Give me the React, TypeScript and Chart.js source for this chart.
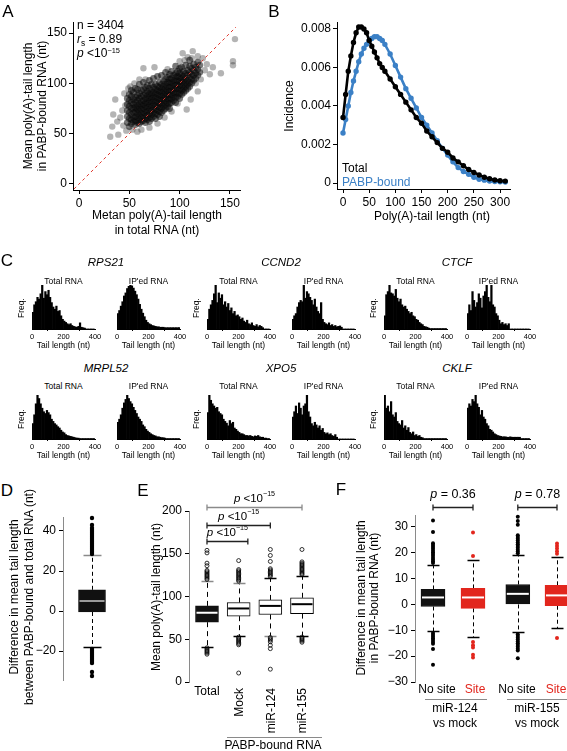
import React, { useEffect, useRef } from 'react';
import { Chart, registerables } from 'chart.js';

Chart.register(...registerables);

const FONT = '"Liberation Sans", Arial, Helvetica, sans-serif';
Chart.defaults.font.family = FONT;
Chart.defaults.font.size = 12;
Chart.defaults.color = '#000';

const BLUE = '#3b80c6';
const RED = '#e2261d';

// ================= DATA =================
// Panel A: mean tail length, total (x) vs PABP-bound (y) — dense core read per x column
const aXs = [48, 50, 52, 54, 56, 58, 60, 62, 64, 66, 68, 70, 72, 74, 76, 78, 80, 82, 84, 86, 88, 90, 92, 94, 96, 98, 100, 102, 104, 106, 108, 110, 112, 114, 116, 118, 120];
const aYs = [
  [61, 67, 73, 79, 85],
  [57, 65, 71, 77, 83, 89],
  [60, 64, 69, 75, 81, 87, 93],
  [62, 66, 71, 75, 79, 84, 91],
  [59, 63, 67, 72, 76, 81, 86, 95],
  [61, 66, 70, 74, 78, 83, 88, 94],
  [60, 64, 68, 72, 76, 80, 85, 90, 99],
  [62, 66, 70, 74, 78, 82, 87, 93],
  [63, 67, 71, 75, 79, 83, 88, 94, 101],
  [61, 65, 69, 73, 77, 81, 85, 90, 96],
  [64, 68, 72, 76, 80, 84, 88, 92, 98],
  [62, 66, 70, 74, 78, 82, 86, 90, 95, 103],
  [65, 69, 73, 77, 81, 85, 89, 93, 99],
  [67, 71, 75, 79, 83, 87, 91, 96, 105],
  [65, 70, 74, 78, 82, 86, 90, 94, 99],
  [69, 73, 77, 81, 85, 89, 93, 97, 107],
  [67, 72, 76, 80, 84, 88, 92, 96, 101],
  [71, 75, 79, 83, 87, 91, 95, 99, 108],
  [73, 77, 81, 85, 89, 93, 97, 102],
  [75, 79, 83, 87, 91, 95, 99, 104, 111],
  [77, 81, 85, 89, 93, 97, 101, 106],
  [75, 80, 84, 88, 92, 96, 100, 104, 109],
  [81, 85, 89, 93, 97, 101, 105, 112],
  [83, 87, 91, 95, 99, 103, 108],
  [81, 86, 90, 94, 98, 102, 106, 110, 117],
  [87, 91, 95, 99, 103, 107, 112],
  [85, 90, 94, 98, 102, 106, 110, 115],
  [89, 93, 97, 101, 105, 109, 116],
  [91, 95, 99, 103, 107, 112],
  [93, 97, 101, 105, 110, 118],
  [95, 99, 103, 108, 113],
  [97, 101, 106, 111, 117, 123],
  [100, 104, 109, 115],
  [103, 108, 113, 119],
  [105, 110, 116],
  [108, 114, 121],
  [111, 118],
];
const aOutX = [31, 33, 34, 36, 38, 39, 41, 43, 44, 45, 46, 47, 49, 51, 53, 55, 58, 62, 64, 66, 70, 75, 78, 85, 92, 98, 103, 105, 107, 108, 111, 113, 116, 118, 121, 123, 125, 127, 130, 133, 141, 153, 153, 155, 118, 112, 100, 88, 60];
const aOutY = [47, 57, 69, 84, 62, 49, 66, 73, 58, 90, 78, 53, 95, 97, 54, 100, 52, 54, 115, 104, 56, 116, 60, 66, 72, 80, 130, 123, 74, 126, 84, 132, 100, 127, 104, 125, 113, 119, 109, 116, 110, 118, 122, 144, 92, 125, 122, 114, 104];
const aDiag = [-5, 156];
const aTicks = [0, 50, 100, 150];

// Panel B: incidence vs poly(A)-tail length
const bLen = [0, 5, 10, 15, 20, 25, 30, 35, 40, 45, 50, 55, 60, 65, 70, 75, 80, 90, 100, 110, 120, 130, 140, 150, 160, 170, 180, 190, 200, 210, 220, 230, 240, 250, 260, 270, 280, 290, 300, 310];
const bTotal = [0.0034, 0.0046, 0.0058, 0.0066, 0.0073, 0.0078, 0.0081, 0.0081, 0.0080, 0.0078, 0.0074, 0.0071, 0.0068, 0.0065, 0.0062, 0.0060, 0.0058, 0.0054, 0.0050, 0.0046, 0.0042, 0.0038, 0.0034, 0.0031, 0.0027, 0.0024, 0.0021, 0.0018, 0.0016, 0.0013, 0.0011, 0.0009, 0.0007, 0.00055, 0.00042, 0.0003, 0.00022, 0.00016, 0.00012, 0.0001];
const bPabp = [0.0026, 0.0033, 0.0040, 0.0047, 0.0053, 0.0058, 0.0063, 0.0067, 0.0070, 0.0072, 0.0074, 0.0075, 0.0076, 0.0076, 0.0075, 0.0074, 0.0072, 0.0067, 0.0061, 0.0055, 0.0049, 0.0044, 0.0039, 0.0034, 0.0030, 0.0026, 0.0022, 0.0018, 0.00145, 0.0011, 0.0008, 0.0006, 0.00045, 0.0003, 0.0002, 0.00015, 0.0001, 0.00008, 0.00006, 0.00005];
const bXTicks = [0, 50, 100, 150, 200, 250, 300];
const bYTicks = [0, 0.002, 0.004, 0.006, 0.008];

// Panel C: tail-length histograms (10-nt bins, relative frequency)
const cBins = [0, 10, 20, 30, 40, 50, 60, 70, 80, 90, 100, 110, 120, 130, 140, 150, 160, 170, 180, 190, 200, 210, 220, 230, 240, 250, 260, 270, 280, 290, 300, 310, 320, 330, 340, 350, 360, 370, 380, 390];
const cTicks = [0, 200, 400];
const cGenes = ['RPS21', 'CCND2', 'CTCF', 'MRPL52', 'XPO5', 'CKLF'];
const histRPS21Total = [0.38, 0.55, 0.62, 0.72, 0.68, 0.80, 1.0, 0.70, 0.85, 0.78, 0.88, 0.72, 0.60, 0.50, 0.45, 0.52, 0.40, 0.42, 0.30, 0.22, 0.18, 0.15, 0.12, 0.10, 0.12, 0.08, 0.06, 0.05, 0.04, 0.06, 0.14, 0.04, 0.03, 0.02, 0, 0, 0, 0, 0, 0];
const histRPS21IP = [0.35, 0.42, 0.52, 0.62, 0.75, 0.82, 0.92, 0.97, 1.0, 0.98, 0.93, 0.86, 0.78, 0.68, 0.56, 0.45, 0.36, 0.28, 0.20, 0.15, 0.12, 0.10, 0.08, 0.07, 0.06, 0.05, 0.05, 0.04, 0.04, 0.04, 0.03, 0.03, 0.03, 0.03, 0.03, 0.03, 0.03, 0.03, 0.03, 0.03];
const histCCND2Total = [0.22, 0.45, 0.55, 0.65, 0.80, 1.0, 0.60, 0.82, 0.70, 0.78, 0.55, 0.62, 0.50, 0.58, 0.42, 0.48, 0.35, 0.40, 0.30, 0.32, 0.28, 0.22, 0.25, 0.18, 0.15, 0.20, 0.12, 0.10, 0.14, 0.08, 0.06, 0.10, 0.05, 0.08, 0.06, 0.03, 0, 0, 0, 0];
const histCCND2IP = [0.22, 0.30, 0.35, 0.50, 0.60, 0.65, 0.62, 1.0, 0.70, 0.85, 0.80, 0.72, 0.65, 0.55, 0.68, 0.50, 0.40, 0.35, 0.60, 0.22, 0.15, 0.12, 0.10, 0.14, 0.08, 0.10, 0.06, 0.08, 0.05, 0.06, 0.07, 0.04, 0, 0, 0, 0, 0, 0, 0, 0];
const histCTCFTotal = [0.30, 0.78, 0.85, 1.0, 0.82, 0.80, 0.75, 0.90, 0.70, 0.62, 0.68, 0.55, 0.50, 0.52, 0.45, 0.40, 0.35, 0.38, 0.30, 0.28, 0.22, 0.20, 0.15, 0.12, 0.10, 0.06, 0.05, 0.04, 0.02, 0.01, 0.01, 0.01, 0.01, 0.01, 0.01, 0.01, 0.01, 0.01, 0.01, 0.01];
const histCTCFIP = [0.35, 0.55, 0.42, 0.85, 0.65, 0.50, 0.60, 0.80, 0.70, 0.48, 0.75, 0.85, 1.0, 0.72, 0.62, 1.0, 0.55, 0.50, 0.35, 0.30, 0.20, 0.12, 0.15, 0.10, 0.12, 0.08, 0.12, 0, 0, 0, 0, 0, 0, 0, 0, 0, 0, 0, 0, 0];
const histMRPL52Total = [0.35, 0.55, 0.80, 1.0, 0.92, 0.80, 0.70, 0.62, 0.58, 0.65, 0.60, 0.55, 0.45, 0.40, 0.35, 0.32, 0.28, 0.25, 0.20, 0.16, 0.14, 0.10, 0.08, 0.07, 0.06, 0.05, 0.04, 0.03, 0.02, 0.02, 0.01, 0.01, 0.01, 0.01, 0.01, 0.01, 0.01, 0.01, 0.01, 0.01];
const histMRPL52IP = [0.38, 0.45, 0.55, 0.70, 0.82, 0.90, 1.0, 0.92, 0.85, 0.80, 0.72, 0.65, 0.58, 0.50, 0.45, 0.40, 0.32, 0.28, 0.22, 0.18, 0.15, 0.12, 0.10, 0.08, 0.07, 0.05, 0.05, 0.04, 0.03, 0.03, 0.02, 0.01, 0.01, 0.01, 0.01, 0.01, 0.01, 0.01, 0.01, 0.01];
const histXPO5Total = [0.60, 1.0, 0.88, 0.80, 0.75, 0.70, 0.72, 0.62, 0.58, 0.55, 0.45, 0.40, 0.36, 0.30, 0.42, 0.35, 0.38, 0.25, 0.22, 0.18, 0.15, 0.12, 0.12, 0.10, 0.08, 0.08, 0.07, 0.08, 0.06, 0.05, 0.07, 0.06, 0.08, 0.05, 0.04, 0.04, 0.02, 0.02, 0.01, 0.01];
const histXPO5IP = [0.50, 0.62, 0.75, 0.58, 0.82, 0.70, 0.55, 0.75, 0.80, 1.0, 0.62, 0.50, 0.35, 0.30, 0.38, 0.32, 0.25, 0.30, 0.20, 0.24, 0.15, 0.12, 0.14, 0.10, 0.12, 0.08, 0.06, 0.10, 0.04, 0, 0, 0, 0, 0, 0, 0, 0, 0, 0, 0];
const histCKLFTotal = [1.0, 0.70, 0.75, 0.62, 0.85, 0.55, 0.50, 0.60, 0.40, 0.35, 0.32, 0.42, 0.25, 0.30, 0.20, 0.26, 0.15, 0.12, 0.16, 0.08, 0.10, 0.06, 0.08, 0.04, 0.03, 0.01, 0.01, 0.01, 0.01, 0.01, 0.01, 0.01, 0.01, 0.01, 0.01, 0.01, 0.01, 0.01, 0.01, 0.01];
const histCKLFIP = [0.70, 0.80, 0.75, 0.90, 0.85, 1.0, 0.80, 0.72, 0.55, 0.65, 0.50, 0.45, 0.35, 0.30, 0.22, 0.20, 0.16, 0.12, 0.10, 0.08, 0.07, 0.06, 0.05, 0.05, 0.05, 0.04, 0.04, 0.05, 0.04, 0.04, 0.04, 0.04, 0.04, 0.04, 0.01, 0.01, 0.01, 0.01, 0.01, 0.01];

// Panel D: [lower whisker, Q1, median, Q3, upper whisker]
const dStats = [[-18, -0.5, 5, 10.6, 27.8]];
const dOutliers = [[28.5, 29.5, 30.5, 31.5, 32.5, 33.5, 34.5, 35.5, 36.5, 37.5, 38.5, 39.5, 40.5, 41.5, 43, 46.5, -19, -20, -21, -22, -23, -24, -25, -26, -30.5, -32.5]];
const dTicks = [-20, 0, 20, 40];

// Panel E
const eCats = ['Total', 'Mock', 'miR-124', 'miR-155'];
const eStats = [[41, 70, 81, 89, 118], [54, 77, 86, 93, 116], [54, 79, 89, 96, 122], [54, 80, 91, 98.5, 124]];
const eOutliers = [
  [120, 121.5, 123, 124.5, 126, 127.5, 129, 130.5, 136, 139, 151, 154, 40, 38.5, 37, 35.5, 34, 32.5],
  [118, 119.5, 121, 122.5, 124, 125.5, 127, 128.5, 130, 131.5, 142, 52.5, 51, 49.5, 48, 46.5, 45, 43.5, 10.5],
  [123.5, 125, 126.5, 128, 129.5, 131, 132.5, 141, 148, 155, 52, 50.5, 49, 47, 43, 39, 15],
  [125.5, 127, 128.5, 130, 131.5, 133, 134.5, 136, 137.5, 139, 140.5, 155, 52.5, 51, 49.5, 48, 46.5],
];
const eTicks = [0, 50, 100, 150, 200];
const eBracketFrom = [1, 1, 1];
const eBracketTo = [2.29, 3, 4];
const eBracketY = [165, 184, 205];

// Panel F
const fCats = ['No site', 'Site', 'No site', 'Site'];
const fGroups = ['miR-124', 'miR-155'];
const fStats = [[-10.4, -0.8, 2.7, 5.8, 15.1], [-12.7, -1.5, 2.7, 6.2, 17.1], [-10.7, 0, 4.1, 7.7, 19], [-9.2, -0.5, 3.5, 7.4, 18.2]];
const fOutliers = [
  [16, 16.7, 17.4, 18.1, 18.8, 19.5, 20.2, 20.9, 21.6, 22.3, 23, 23.7, 28, 32.5, -11, -11.7, -12.4, -13.1, -13.8, -14.5, -15.2, -17.2, -23.3],
  [18.7, 27.8, -14.5, -15.8, -16.7, -19.5, -20.5],
  [19.8, 20.5, 21.2, 21.9, 22.6, 23.3, 24, 24.7, 25.4, 26.1, 26.8, 30.8, 32.3, 33.9, -11.5, -12.2, -12.9, -13.6, -14.3, -15, -15.7, -16.4, -17.1, -17.8, -20.8],
  [19.6, 20.6, 21.6, 22.6, 23.6, -13],
];
const fTicks = [-30, -20, -10, 0, 10, 20, 30];
const fBracketFrom = [0, 2];
const fBracketTo = [1, 3];
const fBracketY = [37.7, 37.7];
const fPValues = ['0.36', '0.78'];

// ================= HELPERS =================
const minusFmt = (v: number) => (v < 0 ? '\u2212' + Math.abs(v) : String(v));

function rAxis(min: number, max: number, ticks: number[], size: number, isX: boolean, o: any = {}) {
  return {
    type: 'linear',
    min,
    max,
    offset: false,
    afterBuildTicks: (s: any) => {
      s.ticks = ticks.map((v) => ({ value: v }));
    },
    afterFit: (s: any) => {
      if (isX) s.height = size;
      else s.width = size;
    },
    grid: { display: true, drawOnChartArea: false, drawTicks: true, tickLength: o.tickLength ?? 4, color: o.tickColor ?? '#000', lineWidth: 1 },
    border: { display: true, color: o.axisColor ?? '#000', width: 1 },
    ticks: {
      font: { size: o.fontSize ?? 12, family: FONT },
      color: '#000',
      padding: o.padding ?? 2,
      maxRotation: 0,
      autoSkip: false,
      callback: o.fmt ?? ((v: any) => minusFmt(Number(v))),
    },
  };
}

const baseOpts = (padding: any) => ({
  animation: false,
  responsive: false,
  maintainAspectRatio: false,
  events: [],
  layout: { padding, autoPadding: false },
  plugins: { legend: { display: false }, tooltip: { enabled: false }, title: { display: false } },
});

type Part = { t: string; italic?: boolean; sup?: boolean };
function drawRich(ctx: CanvasRenderingContext2D, parts: Part[], cx: number, cy: number, size: number) {
  const fontOf = (p: Part) => `${p.italic ? 'italic ' : ''}${p.sup ? size * 0.62 : size}px ${FONT}`;
  let w = 0;
  parts.forEach((p) => {
    ctx.font = fontOf(p);
    w += ctx.measureText(p.t).width;
  });
  let x = cx - w / 2;
  ctx.textBaseline = 'middle';
  ctx.textAlign = 'left';
  parts.forEach((p) => {
    ctx.font = fontOf(p);
    ctx.fillText(p.t, x, p.sup ? cy - size * 0.38 : cy);
    x += ctx.measureText(p.t).width;
  });
}

function boxDecor(stats: number[][], xs: number[], boxW: number, capW: number, medColors: string[], capLo: string[], capHi: string[], dash: number[]) {
  return {
    id: 'boxDecor',
    beforeDatasetsDraw(chart: any) {
      const { ctx } = chart;
      const x = chart.scales.x;
      const y = chart.scales.y;
      ctx.save();
      stats.forEach((s, i) => {
        const cx = Math.round(x.getPixelForValue(xs[i])) + 0.5;
        ctx.strokeStyle = '#000';
        ctx.lineWidth = 1;
        ctx.setLineDash(dash);
        ctx.beginPath();
        ctx.moveTo(cx, y.getPixelForValue(s[3]));
        ctx.lineTo(cx, y.getPixelForValue(s[4]));
        ctx.moveTo(cx, y.getPixelForValue(s[1]));
        ctx.lineTo(cx, y.getPixelForValue(s[0]));
        ctx.stroke();
        ctx.setLineDash([]);
        const caps: [number, string][] = [[s[4], capHi[i]], [s[0], capLo[i]]];
        caps.forEach(([v, c]) => {
          const py = Math.round(y.getPixelForValue(v)) + 0.5;
          ctx.strokeStyle = c;
          ctx.lineWidth = 1.5;
          ctx.beginPath();
          ctx.moveTo(cx - capW / 2, py);
          ctx.lineTo(cx + capW / 2, py);
          ctx.stroke();
        });
      });
      ctx.restore();
    },
    afterDatasetsDraw(chart: any) {
      const { ctx } = chart;
      const x = chart.scales.x;
      const y = chart.scales.y;
      ctx.save();
      stats.forEach((s, i) => {
        const cx = x.getPixelForValue(xs[i]);
        const py = y.getPixelForValue(s[2]);
        ctx.strokeStyle = medColors[i];
        ctx.lineWidth = 2;
        ctx.beginPath();
        ctx.moveTo(cx - boxW / 2 + 1, py);
        ctx.lineTo(cx + boxW / 2 - 1, py);
        ctx.stroke();
      });
      ctx.restore();
    },
  };
}

function bracketDecor(x1s: number[], x2s: number[], ys: number[], colors: string[], labels: Part[][], size: number, gap: number) {
  return {
    id: 'brackets',
    afterDraw(chart: any) {
      const { ctx } = chart;
      const x = chart.scales.x;
      const y = chart.scales.y;
      ctx.save();
      ys.forEach((v, i) => {
        const px1 = x.getPixelForValue(x1s[i]);
        const px2 = x.getPixelForValue(x2s[i]);
        const py = Math.round(y.getPixelForValue(v)) + 0.5;
        ctx.strokeStyle = colors[i];
        ctx.lineWidth = 1.3;
        ctx.beginPath();
        ctx.moveTo(px1, py);
        ctx.lineTo(px2, py);
        ctx.moveTo(px1, py - 3);
        ctx.lineTo(px1, py + 3);
        ctx.moveTo(px2, py - 3);
        ctx.lineTo(px2, py + 3);
        ctx.stroke();
        ctx.fillStyle = '#000';
        drawRich(ctx, labels[i], (px1 + px2) / 2, py - gap, size);
      });
      ctx.restore();
    },
  };
}

function boxChart(o: {
  stats: number[][];
  outliers: number[][];
  xs: number[];
  xmin: number;
  xmax: number;
  ymin: number;
  ymax: number;
  yTicks: number[];
  yWidth: number;
  padding: any;
  boxW: number;
  capW: number;
  fills: string[];
  borders: string[];
  meds: string[];
  capLo: string[];
  capHi: string[];
  outColors: string[];
  filled: boolean;
  outR: number;
  dash: number[];
  extraPlugins?: any[];
}) {
  const outPts: any[] = [];
  const outCols: string[] = [];
  o.outliers.forEach((list, i) =>
    list.forEach((v) => {
      outPts.push({ x: o.xs[i], y: v });
      outCols.push(o.outColors[i]);
    })
  );
  return {
    type: 'bar',
    data: {
      datasets: [
        {
          type: 'scatter',
          data: outPts,
          pointRadius: o.outR,
          pointBackgroundColor: o.filled ? outCols : 'rgba(0,0,0,0)',
          pointBorderColor: outCols,
          pointBorderWidth: o.filled ? 0 : 0.8,
          order: 0,
          clip: false,
        },
        {
          type: 'bar',
          data: o.stats.map((s, i) => ({ x: o.xs[i], y: [s[1], s[3]] })),
          backgroundColor: o.fills,
          borderColor: o.borders,
          borderWidth: 1,
          borderSkipped: false,
          barThickness: o.boxW,
          order: 1,
        },
      ],
    },
    options: {
      ...baseOpts(o.padding),
      scales: {
        x: { type: 'linear', display: false, min: o.xmin, max: o.xmax, offset: false },
        y: rAxis(o.ymin, o.ymax, o.yTicks, o.yWidth, false, { axisColor: '#8a8a8a', padding: 3 }),
      },
    },
    plugins: [boxDecor(o.stats, o.xs, o.boxW, o.capW, o.meds, o.capLo, o.capHi, o.dash), ...(o.extraPlugins ?? [])],
  };
}

// ================= CHART CONFIGS =================
function configA() {
  const core: any[] = [];
  aXs.forEach((x, i) => aYs[i].forEach((y) => core.push({ x, y })));
  const sparse = aOutX.map((x, i) => ({ x, y: aOutY[i] }));
  return {
    type: 'scatter',
    data: {
      datasets: [
        { type: 'line', data: aDiag.map((v) => ({ x: v, y: v })), borderColor: '#e0392e', borderWidth: 1, borderDash: [3, 3], pointRadius: 0, order: 0 },
        { data: core, backgroundColor: 'rgba(10,10,10,0.55)', pointBorderWidth: 0, borderWidth: 0, pointRadius: 3.4, order: 1 },
        { data: sparse, backgroundColor: 'rgba(40,40,40,0.35)', pointBorderWidth: 0, borderWidth: 0, pointRadius: 3.2, order: 2 },
      ],
    },
    options: {
      ...baseOpts({ left: 0, top: 22, right: 30, bottom: 0 }),
      scales: {
        x: rAxis(-6, 160, aTicks, 55, true),
        y: rAxis(-6, 161, aTicks, 73, false),
      },
    },
  };
}

function configB() {
  return {
    type: 'scatter',
    data: {
      datasets: [
        { data: bLen.map((x, i) => ({ x, y: bPabp[i] })), showLine: true, borderColor: BLUE, backgroundColor: BLUE, borderWidth: 2.6, pointRadius: 1.4, order: 1 },
        { data: bLen.map((x, i) => ({ x, y: bTotal[i] })), showLine: true, borderColor: '#000', backgroundColor: '#000', borderWidth: 2.6, pointRadius: 1.4, order: 0 },
      ],
    },
    options: {
      ...baseOpts({ left: 0, top: 22, right: 57, bottom: 0 }),
      scales: {
        x: rAxis(-11.5, 319, bXTicks, 56, true),
        y: rAxis(-0.00031, 0.00836, bYTicks, 62, false, { fmt: (v: any) => (Number(v) === 0 ? '0' : Number(v).toFixed(3)) }),
      },
    },
  };
}

function histConfig(values: number[]) {
  return {
    type: 'bar',
    data: {
      datasets: [
        {
          data: cBins.map((b, i) => ({ x: b + 5, y: values[i] })),
          backgroundColor: '#000',
          borderWidth: 0,
          barPercentage: 1,
          categoryPercentage: 1,
        },
      ],
    },
    options: {
      ...baseOpts({ left: 10, right: 10, top: 2, bottom: 0 }),
      scales: {
        x: rAxis(0, 400, cTicks, 14, true, { fontSize: 7.5, tickLength: 2, padding: 1 }),
        y: { display: false, min: 0, max: 1 },
      },
    },
  };
}

function configD() {
  return boxChart({
    stats: dStats,
    outliers: dOutliers,
    xs: [1],
    xmin: 0,
    xmax: 2,
    ymin: -34.5,
    ymax: 47,
    yTicks: dTicks,
    yWidth: 63,
    padding: { left: 0, top: 12, right: 14, bottom: 15 },
    boxW: 27,
    capW: 18,
    fills: ['#111'],
    borders: ['#111'],
    meds: ['#9a9a9a'],
    capLo: ['#000'],
    capHi: ['#8a8a8a'],
    outColors: ['#000'],
    filled: true,
    outR: 2.2,
    dash: [4, 3],
  });
}

function configE() {
  const pLabel: Part[] = [{ t: 'p', italic: true }, { t: ' <10' }, { t: '\u221215', sup: true }];
  return boxChart({
    stats: eStats,
    outliers: eOutliers,
    xs: [1, 2, 3, 4],
    xmin: 0.432,
    xmax: 4.6,
    ymin: 0,
    ymax: 200,
    yTicks: eTicks,
    yWidth: 54,
    padding: { left: 0, top: 41, right: 14, bottom: 68 },
    boxW: 23,
    capW: 12,
    fills: ['#111', '#fff', '#fff', '#fff'],
    borders: ['#111', '#000', '#000', '#000'],
    meds: ['#fff', '#000', '#000', '#000'],
    capLo: ['#000', '#000', '#8a8a8a', '#000'],
    capHi: ['#8a8a8a', '#8a8a8a', '#000', '#000'],
    outColors: ['#000', '#000', '#000', '#000'],
    filled: false,
    outR: 2,
    dash: [5, 4],
    extraPlugins: [bracketDecor(eBracketFrom, eBracketTo, eBracketY, ['#222', '#222', '#8a8a8a'], [pLabel, pLabel, pLabel], 11.5, 9)],
  });
}

function configF() {
  const xs = [1, 2, 3.12, 4.1];
  const labels: Part[][] = fPValues.map((p) => [{ t: 'p', italic: true }, { t: ' = ' + p }]);
  return boxChart({
    stats: fStats,
    outliers: fOutliers,
    xs,
    xmin: 0.55,
    xmax: 4.35,
    ymin: -30,
    ymax: 34.6,
    yTicks: fTicks,
    yWidth: 75,
    padding: { left: 0, top: 45, right: 0, bottom: 68 },
    boxW: 24,
    capW: 12,
    fills: ['#111', RED, '#111', RED],
    borders: ['#111', RED, '#111', RED],
    meds: ['#fff', '#fff', '#fff', '#fff'],
    capLo: ['#000', '#000', '#000', '#000'],
    capHi: ['#000', '#000', '#000', '#000'],
    outColors: ['#000', RED, '#000', RED],
    filled: true,
    outR: 2,
    dash: [4, 3],
    extraPlugins: [bracketDecor(fBracketFrom.map((i) => xs[i]), fBracketTo.map((i) => xs[i]), fBracketY, ['#222', '#222'], labels, 12.5, 13)],
  });
}

// ================= COMPONENTS =================
function ChartBox({ left, top, width, height, make }: { left: number; top: number; width: number; height: number; make: () => any }) {
  const ref = useRef<HTMLCanvasElement>(null);
  useEffect(() => {
    const chart = new Chart(ref.current as HTMLCanvasElement, make());
    return () => chart.destroy();
  }, []);
  return (
    <div style={{ position: 'absolute', left, top, width, height }}>
      <canvas ref={ref} width={width} height={height} style={{ width, height, display: 'block' }} />
    </div>
  );
}

type TP = { x: number; y: number; size?: number; color?: string; italic?: boolean; anchor?: 'start' | 'middle' | 'end'; children: React.ReactNode };
function T({ x, y, size = 12, color = '#000', italic = false, anchor = 'middle', children }: TP) {
  const tx = anchor === 'start' ? '0' : anchor === 'end' ? '-100%' : '-50%';
  return (
    <div style={{ position: 'absolute', left: x, top: y, transform: `translate(${tx},-50%)`, fontSize: size, color, fontStyle: italic ? 'italic' : 'normal', whiteSpace: 'nowrap', lineHeight: `${size + 2}px` }}>
      {children}
    </div>
  );
}
function VT({ x, y, size = 12, children }: { x: number; y: number; size?: number; children: React.ReactNode }) {
  return (
    <div style={{ position: 'absolute', left: x, top: y, transform: 'translate(-50%,-50%) rotate(-90deg)', fontSize: size, whiteSpace: 'nowrap', lineHeight: `${size + 2}px` }}>
      {children}
    </div>
  );
}
function RT({ x, top, size = 12, children }: { x: number; top: number; size?: number; children: React.ReactNode }) {
  return (
    <div style={{ position: 'absolute', left: x - (size + 2) / 2, top, transformOrigin: '0 0', transform: 'rotate(-90deg) translateX(-100%)', fontSize: size, whiteSpace: 'nowrap', lineHeight: `${size + 2}px` }}>
      {children}
    </div>
  );
}
const Sup = ({ children }: { children: React.ReactNode }) => <span style={{ fontSize: '0.62em', position: 'relative', top: '-0.5em' }}>{children}</span>;
const Sub = ({ children }: { children: React.ReactNode }) => <span style={{ fontSize: '0.7em', position: 'relative', top: '0.3em' }}>{children}</span>;
const HLine = ({ x1, x2, y, color = '#8a8a8a' }: { x1: number; x2: number; y: number; color?: string }) => (
  <div style={{ position: 'absolute', left: x1, top: y, width: x2 - x1, height: 1, background: color }} />
);

const histSets = [
  [histRPS21Total, histRPS21IP, histCCND2Total, histCCND2IP, histCTCFTotal, histCTCFIP],
  [histMRPL52Total, histMRPL52IP, histXPO5Total, histXPO5IP, histCKLFTotal, histCKLFIP],
];
const histX0 = [32, 117, 207, 292, 384, 467];
const histBase = [329, 439];
const geneCx = [106, 281, 457];

export default function App() {
  return (
    <div style={{ position: 'absolute', left: 0, top: 0, width: 567, height: 751, background: '#fff', fontFamily: FONT, color: '#000', overflow: 'hidden' }}>
      {/* Panel A */}
      <ChartBox left={0} top={0} width={270} height={245} make={configA} />
      <T x={8} y={11} size={17}>A</T>
      <T x={77} y={25} anchor="start">n = 3404</T>
      <T x={77} y={39} anchor="start"><i>r</i><Sub>s</Sub> = 0.89</T>
      <T x={77} y={54} anchor="start"><i>p</i> &lt;10<Sup>−15</Sup></T>
      <VT x={28} y={106}>Mean poly(A)-tail length</VT>
      <VT x={42} y={106}>in PABP-bound RNA (nt)</VT>
      <T x={157} y={215}>Metan poly(A)-tail length</T>
      <T x={157} y={230}>in total RNA (nt)</T>

      {/* Panel B */}
      <ChartBox left={275} top={0} width={292} height={245} make={configB} />
      <T x={274} y={11} size={17}>B</T>
      <VT x={289} y={106}>Incidence</VT>
      <T x={432} y={216}>Poly(A)-tail length (nt)</T>
      <T x={342} y={168} anchor="start">Total</T>
      <T x={342} y={182} anchor="start" color={BLUE}>PABP-bound</T>

      {/* Panel C */}
      <T x={7} y={260} size={17}>C</T>
      {histSets.map((row, r) =>
        row.map((vals, j) => (
          <ChartBox key={`h${r}${j}`} left={histX0[j] - 10} top={histBase[r] - 46} width={83} height={60} make={() => histConfig(vals)} />
        ))
      )}
      {cGenes.map((g, k) => (
        <T key={g} x={geneCx[k % 3]} y={k < 3 ? 263 : 369} size={11.5} italic>{g}</T>
      ))}
      {histBase.map((_, r) =>
        histX0.map((x0, j) => (
          <React.Fragment key={`t${r}${j}`}>
            <T x={x0 + 31.5} y={r === 0 ? 281 : 386} size={8.5}>{j % 2 === 0 ? 'Total RNA' : "IP'ed RNA"}</T>
            <T x={x0 + 31.5} y={r === 0 ? 345 : 455} size={8.5}>Tail length (nt)</T>
            {j % 2 === 0 ? <VT x={x0 - 11} y={r === 0 ? 308 : 419} size={8.5}>Freq.</VT> : null}
          </React.Fragment>
        ))
      )}

      {/* Panel D */}
      <ChartBox left={0} top={505} width={135} height={190} make={configD} />
      <T x={7} y={490} size={17}>D</T>
      <VT x={14} y={597}>Difference in mean tail length</VT>
      <VT x={29} y={597}>between PABP-bound and total RNA (nt)</VT>

      {/* Panel E */}
      <ChartBox left={135} top={470} width={200} height={280} make={configE} />
      <T x={143} y={490} size={17}>E</T>
      <VT x={156} y={597}>Mean poly(A)-tail length (nt)</VT>
      <T x={207} y={691}>{eCats[0]}</T>
      <RT x={239} top={688}>{eCats[1]}</RT>
      <RT x={271} top={688}>{eCats[2]}</RT>
      <RT x={302} top={688}>{eCats[3]}</RT>
      <HLine x1={227} x2={322} y={737} />
      <T x={273} y={745}>PABP-bound RNA</T>

      {/* Panel F */}
      <ChartBox left={340} top={470} width={227} height={280} make={configF} />
      <T x={341} y={489} size={17}>F</T>
      <VT x={361} y={598}>Difference in mean tail length</VT>
      <VT x={374} y={598}>in PABP-bound RNA (nt)</VT>
      <T x={437} y={689}>{fCats[0]}</T>
      <T x={475} y={689} color={RED}>{fCats[1]}</T>
      <T x={517} y={689}>{fCats[2]}</T>
      <T x={556} y={689} color={RED}>{fCats[3]}</T>
      <HLine x1={425} x2={487} y={699} />
      <HLine x1={507} x2={567} y={699} />
      <T x={455} y={708}>{fGroups[0]}</T>
      <T x={455} y={723}>vs mock</T>
      <T x={537} y={708}>{fGroups[1]}</T>
      <T x={537} y={723}>vs mock</T>
    </div>
  );
}
